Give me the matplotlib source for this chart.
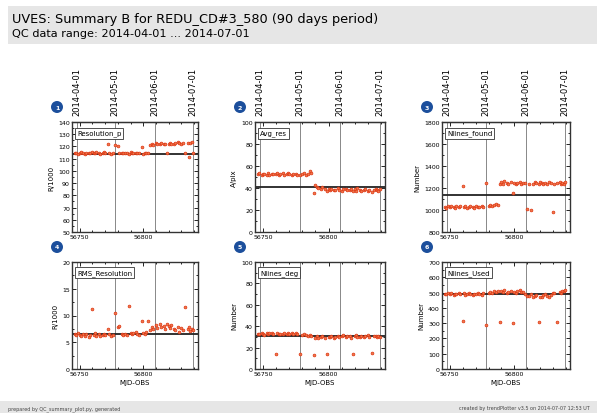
import matplotlib
matplotlib.use("Agg")
import matplotlib.pyplot as plt
from matplotlib.patches import Rectangle, Circle
from matplotlib.ticker import MultipleLocator, AutoMinorLocator

# observation nights (MJD)
mjd = [56746, 56747, 56749, 56750, 56751, 56753, 56754, 56755, 56757, 56758,
       56760, 56761, 56762, 56763, 56765, 56766, 56768, 56769, 56770, 56772,
       56773, 56775, 56776, 56778, 56780, 56781, 56783, 56784, 56786, 56787,
       56789, 56790, 56791, 56792, 56794, 56795, 56797, 56799, 56800, 56801,
       56802, 56804, 56805, 56807, 56808, 56810, 56811, 56813, 56814, 56816,
       56817, 56819, 56820, 56821, 56822, 56824, 56825, 56827, 56828, 56830,
       56831, 56833, 56835, 56836, 56837, 56838, 56839]

resolution_p = [114.5, 115.0, 114.2, 114.8, 115.3, 114.6, 114.1, 115.0, 114.7, 114.4,
                115.2, 114.9, 114.3, 115.1, 114.6, 114.0, 114.8, 115.4, 114.5, 121.8,
                114.7, 114.2, 115.0, 121.0, 120.4, 114.6, 114.3, 115.0, 114.8, 114.5,
                114.1, 115.2, 114.7, 114.4, 115.0, 114.6, 114.9, 119.2, 114.2, 114.8,
                114.5, 115.0, 121.5, 122.0, 121.2, 122.6, 121.8, 122.3, 123.0, 122.1,
                121.6, 114.8, 122.4, 123.1, 122.0, 121.7, 122.5, 123.4, 122.8, 122.2,
                123.0, 114.3, 122.6, 111.5, 122.9, 123.6, 114.6]

avg_res = [52.5, 53.8, 52.0, 53.1, 52.7, 51.9, 53.4, 52.2, 53.0, 52.4,
           52.8, 53.5, 51.8, 52.6, 53.2, 52.1, 52.9, 53.7, 52.3, 51.6,
           52.8, 53.0, 52.2, 51.4, 52.6, 53.3, 52.0, 52.7, 55.2, 53.9,
           35.5, 43.0, 41.2, 40.1, 39.4, 40.6, 38.8, 37.2, 39.5, 38.3,
           39.0, 37.9, 38.6, 39.8, 38.1, 37.5, 38.9, 39.3, 37.8, 38.4,
           39.1, 37.0, 38.7, 37.6, 39.6, 38.2, 37.3, 38.5, 39.4, 37.7,
           38.0, 36.8, 37.9, 39.2, 38.6, 37.4, 38.8]

nlines_found = [1030, 1020, 1035, 1025, 1040, 1028, 1018, 1032, 1026, 1038,
                1215, 1024, 1034, 1022, 1030, 1036, 1027, 1019, 1033, 1025,
                1031, 1040, 1028, 1245, 1035, 1050, 1038, 1045, 1052, 1042,
                1240, 1252, 1238, 1260, 1245, 1235, 1255, 1155, 1248, 1236,
                1242, 1258, 1233, 1247, 1250, 1005, 1240, 998, 1238, 1252,
                1244, 1236, 1256, 1241, 1234, 1249, 1239, 1253, 1245, 985,
                1237, 1243, 1251, 1236, 1246, 1240, 1254]

rms_resolution = [6.5, 6.3, 6.8, 6.4, 6.1, 6.6, 6.2, 6.5, 6.0, 6.4,
                  11.2, 6.3, 6.7, 6.2, 6.5, 6.1, 6.4, 6.6, 6.3, 7.5,
                  6.5, 6.2, 6.4, 10.4, 7.9, 8.0, 6.5, 6.3, 6.6, 6.4,
                  11.8, 6.8, 6.5, 6.7, 6.9, 6.6, 6.4, 9.0, 6.8, 6.5,
                  6.9, 8.9, 7.3, 7.8, 7.5, 8.2, 7.6, 8.4, 7.9, 8.1,
                  7.4, 8.5, 8.0, 7.7, 8.3, 7.5, 7.2, 7.9, 7.0, 7.6,
                  7.3, 11.6, 7.4, 7.8, 7.1, 7.5, 7.2]

nlines_deg = [33.0, 32.4, 33.8, 32.8, 31.9, 33.5, 32.6, 33.2, 34.1, 32.9,
              14.0, 33.4, 32.5, 33.1, 32.7, 33.9, 32.3, 33.6, 32.8, 33.2,
              32.5, 33.7, 32.9, 13.8, 31.8, 32.4, 31.5, 30.8, 31.9, 30.6,
              13.5, 29.4, 30.8, 28.7, 29.9, 30.5, 29.2, 14.2, 30.1, 29.5,
              30.7, 29.0, 30.3, 31.2, 29.6, 30.9, 31.5, 29.8, 30.4, 31.0,
              29.3, 14.0, 30.6, 31.8, 29.7, 30.2, 31.1, 29.5, 30.8, 31.4,
              30.0, 14.5, 30.6, 31.3, 29.9, 30.7, 30.2]

nlines_used = [492, 488, 495, 490, 497, 486, 493, 489, 496, 491,
               312, 494, 487, 492, 498, 490, 485, 493, 489, 495,
               491, 487, 494, 288, 496, 502, 499, 508, 504, 512,
               305, 510, 503, 515, 498, 507, 512, 302, 505, 498,
               509, 514, 501, 506, 493, 480, 475, 488, 470, 478,
               485, 306, 473, 468, 482, 490, 476, 471, 487, 495,
               498, 308, 502, 496, 508, 512, 515]

# panel settings: name, ylabel, values, reference line, ylim, major step
panels = [
    ("Resolution_p", "R/1000", resolution_p, 114.0, (50, 140), 10),
    ("Avg_res", "A/pix", avg_res, 41.0, (0, 100), 20),
    ("Nlines_found", "Number", nlines_found, 1140, (800, 1800), 200),
    ("RMS_Resolution", "R/1000", rms_resolution, 6.6, (0, 20), 5),
    ("Nlines_deg", "Number", nlines_deg, 30.5, (0, 100), 20),
    ("Nlines_Used", "Number", nlines_used, 490, (0, 700), 100),
]

month_mjd = [56748, 56778, 56809, 56839]
month_labels = ["2014-04-01", "2014-05-01", "2014-06-01", "2014-07-01"]

W, H = 597, 414
fig = plt.figure(figsize=(W / 100, H / 100), dpi=100)

# header / footer bands
fig.patches.append(Rectangle((8 / W, 1 - 45 / H), 1, 38 / H, transform=fig.transFigure,
                             facecolor="#e6e6e6", edgecolor="none", zorder=0))
fig.patches.append(Rectangle((0, 0), 1, 12 / H, transform=fig.transFigure,
                             facecolor="#e6e6e6", edgecolor="none", zorder=0))
fig.text(12 / W, 1 - 20 / H, "UVES: Summary B for REDU_CD#3_580 (90 days period)",
         fontsize=9.3, va="center", ha="left")
fig.text(12 / W, 1 - 34 / H, "QC data range: 2014-04-01 ... 2014-07-01",
         fontsize=8.1, va="center", ha="left")
fig.text(8 / W, 5 / H, "prepared by QC_summary_plot.py, generated", fontsize=3.5,
         va="center", ha="left", color="#444444")
fig.text(590 / W, 5 / H, "created by trendPlotter v3.5 on 2014-07-07 12:53 UT",
         fontsize=3.5, va="center", ha="right", color="#444444")

lefts = [72, 255, 442]
widths = [126, 130, 128]
tops = [123, 263]
heights = [110, 107]

for i, (name, ylab, vals, ref, ylim, step) in enumerate(panels):
    row, col = divmod(i, 3)
    l, w = lefts[col], widths[col]
    t, h = tops[row], heights[row]
    ax = fig.add_axes([l / W, 1 - (t + h) / H, w / W, h / H])

    for m in month_mjd:
        ax.axvline(m, color="#888888", lw=0.7, zorder=1)
    ax.axhline(ref, color="#222222", lw=1.3, zorder=2)
    ax.scatter(mjd, vals, s=4, marker="o", facecolor="#f07a4c",
               edgecolor="#dd3311", linewidth=0.5, zorder=3)

    ax.set_xlim(56744, 56843)
    ax.set_ylim(*ylim)
    ax.yaxis.set_major_locator(MultipleLocator(step))
    ax.yaxis.set_minor_locator(AutoMinorLocator(2))
    ax.xaxis.set_major_locator(MultipleLocator(50))
    ax.xaxis.set_minor_locator(MultipleLocator(10))
    ax.tick_params(which="both", direction="in", top=True, right=True,
                   labelsize=4.5, width=0.6, pad=1.5)
    ax.tick_params(which="major", length=3)
    ax.tick_params(which="minor", length=1.5)
    for sp in ax.spines.values():
        sp.set_linewidth(1.0)
        sp.set_color("#333333")
    ax.set_ylabel(ylab, fontsize=5, labelpad=3)

    ax.text(0.04, 0.93, name, transform=ax.transAxes, fontsize=5, va="top", ha="left",
            bbox=dict(boxstyle="square,pad=0.3", facecolor="white",
                      edgecolor="#333333", linewidth=0.6), zorder=5)

    if row == 0:
        top = ax.secondary_xaxis("top")
        top.set_xticks(month_mjd)
        top.set_xticklabels(month_labels, rotation=90, fontsize=6)
        top.tick_params(length=0, pad=5)
    else:
        ax.set_xlabel("MJD-OBS", fontsize=5, labelpad=2)

    # numbered blue circle
    cx = (l - 15) / W
    cy = 1 - (t - 15) / H
    fig.patches.append(Circle((cx * W, cy * H), 6, transform=None,
                              facecolor="#1c4f9c", edgecolor="none"))
    fig.text(cx, cy, str(i + 1), fontsize=4.5, color="white",
             ha="center", va="center", fontweight="bold")

fig.savefig("out.png", dpi=100)
